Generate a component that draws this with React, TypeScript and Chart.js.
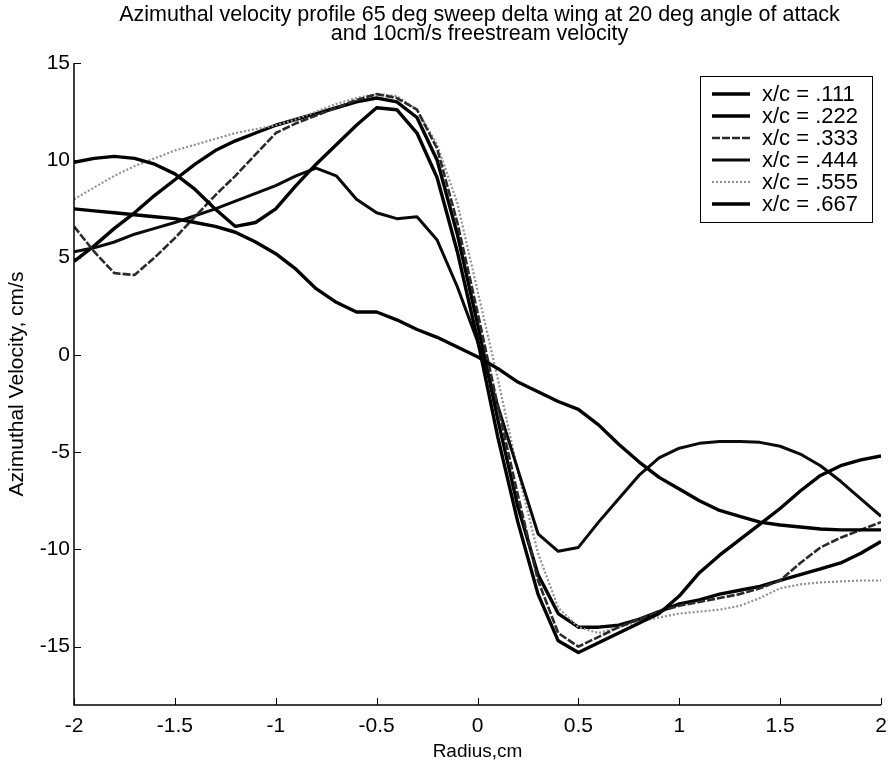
import React, { useEffect, useRef } from "react";
import { Chart, registerables } from "chart.js";

Chart.register(...registerables);

const titleLines = [
  "Azimuthal velocity profile 65 deg sweep delta wing at 20 deg angle of attack",
  "and 10cm/s freestream velocity",
];
const xAxisLabel = "Radius,cm";
const yAxisLabel = "Azimuthal Velocity, cm/s";

const xTicks = [-2, -1.5, -1, -0.5, 0, 0.5, 1, 1.5, 2];
const yTicks = [-15, -10, -5, 0, 5, 10, 15];

const radius = [
  -2.0, -1.9, -1.8, -1.7, -1.6, -1.5, -1.4, -1.3, -1.2, -1.1, -1.0,
  -0.9, -0.8, -0.7, -0.6, -0.5, -0.4, -0.3, -0.2, -0.1, 0.0,
  0.1, 0.2, 0.3, 0.4, 0.5, 0.6, 0.7, 0.8, 0.9, 1.0,
  1.1, 1.2, 1.3, 1.4, 1.5, 1.6, 1.7, 1.8, 1.9, 2.0,
];

const seriesLabels = ["x/c = .111", "x/c = .222", "x/c = .333", "x/c = .444", "x/c = .555", "x/c = .667"];

const vel111 = [
  7.5, 7.4, 7.3, 7.2, 7.1, 7.0, 6.8, 6.6, 6.3, 5.8, 5.2,
  4.4, 3.4, 2.7, 2.2, 2.2, 1.8, 1.3, 0.9, 0.4, -0.1,
  -0.7, -1.4, -1.9, -2.4, -2.8, -3.6, -4.6, -5.5, -6.3, -6.9,
  -7.5, -8.0, -8.3, -8.6, -8.75, -8.85, -8.95, -9.0, -9.0, -9.0,
];
const vel222 = [
  9.9, 10.1, 10.2, 10.1, 9.8, 9.3, 8.5, 7.5, 6.6, 6.8, 7.5,
  8.7, 9.8, 10.8, 11.8, 12.7, 12.6, 11.4, 9.1, 5.3, 0.8,
  -4.2, -8.6, -12.3, -14.7, -15.3, -14.8, -14.3, -13.8, -13.3, -12.4,
  -11.2, -10.3, -9.5, -8.7, -7.9, -7.0, -6.2, -5.7, -5.4, -5.2,
];
const vel333 = [
  6.6, 5.3, 4.2, 4.1, 5.0, 6.0, 7.1, 8.2, 9.2, 10.3, 11.4,
  11.9, 12.3, 12.7, 13.1, 13.4, 13.2, 12.6, 10.6, 6.8, 2.2,
  -2.6, -7.2, -11.6, -14.3, -15.0, -14.5, -14.0, -13.6, -13.2, -12.9,
  -12.7, -12.5, -12.3, -12.0, -11.6, -10.7, -9.9, -9.4, -9.0, -8.6,
];
const vel444 = [
  5.3, 5.5, 5.8, 6.2, 6.5, 6.8, 7.15, 7.5, 7.9, 8.3, 8.7,
  9.2, 9.6, 9.2, 8.0, 7.3, 7.0, 7.1, 5.9, 3.5, 0.7,
  -2.6, -5.9, -9.2, -10.1, -9.9, -8.6, -7.4, -6.2, -5.3, -4.8,
  -4.55, -4.45, -4.45, -4.5, -4.7, -5.1, -5.7, -6.5, -7.4, -8.3,
];
const vel555 = [
  8.0, 8.6, 9.2, 9.7, 10.1, 10.5, 10.8, 11.1, 11.4, 11.6, 11.8,
  12.1, 12.5, 12.9, 13.2, 13.4, 13.3, 12.6, 10.8, 7.8, 3.3,
  -1.2, -6.0, -10.2, -13.0, -14.0, -14.3, -14.0, -13.7, -13.5, -13.3,
  -13.2, -13.1, -12.9, -12.5, -12.0, -11.8, -11.7, -11.65, -11.6, -11.6,
];
const vel667 = [
  4.8, 5.6, 6.5, 7.3, 8.2, 9.0, 9.8, 10.5, 11.0, 11.4, 11.8,
  12.1, 12.4, 12.7, 13.0, 13.2, 13.0, 12.2, 10.0, 6.2, 1.6,
  -3.3, -7.8, -11.3, -13.3, -14.0, -14.0, -13.9, -13.6, -13.2, -12.8,
  -12.6, -12.3, -12.1, -11.9, -11.6, -11.3, -11.0, -10.7, -10.2, -9.6,
];

const seriesValues = [vel111, vel222, vel333, vel444, vel555, vel667];
const seriesColors = ["#000000", "#000000", "#2a2a2a", "#0a0a0a", "#8f8f8f", "#000000"];
const seriesWidths = [3.4, 3.4, 2.6, 3, 2.2, 3.4];
const seriesDashes: number[][] = [[], [], [8, 2], [], [2, 2], []];

const FONT = '"Liberation Sans", Arial, Helvetica, sans-serif';

const decorPlugin = {
  id: "decor",
  afterDraw(chart: any) {
    const { ctx, chartArea } = chart;
    const xs = chart.scales.x;
    const ys = chart.scales.y;
    ctx.save();
    // axes lines
    ctx.strokeStyle = "#000";
    ctx.lineWidth = 1.5;
    ctx.setLineDash([]);
    ctx.beginPath();
    ctx.moveTo(chartArea.left, chartArea.top);
    ctx.lineTo(chartArea.left, chartArea.bottom);
    ctx.lineTo(chartArea.right, chartArea.bottom);
    ctx.stroke();
    // inward ticks
    ctx.lineWidth = 1;
    ctx.beginPath();
    for (const v of yTicks) {
      const p = Math.round(ys.getPixelForValue(v)) + 0.5;
      ctx.moveTo(chartArea.left, p);
      ctx.lineTo(chartArea.left + 7, p);
    }
    for (const v of xTicks) {
      const p = Math.round(xs.getPixelForValue(v)) + 0.5;
      ctx.moveTo(p, chartArea.bottom);
      ctx.lineTo(p, chartArea.bottom - 7);
    }
    ctx.stroke();
    // title
    ctx.fillStyle = "#000";
    ctx.font = `21.5px ${FONT}`;
    ctx.textAlign = "center";
    ctx.textBaseline = "middle";
    const cx = (chartArea.left + chartArea.right) / 2 + 2;
    titleLines.forEach((t, i) => ctx.fillText(t, cx, 15 + i * 19));
    // legend
    const boxW = 172;
    const rowH = 22;
    const boxX = chartArea.right - 9 - boxW;
    const boxY = chartArea.top + 13;
    const boxH = rowH * seriesLabels.length + 14;
    ctx.fillStyle = "#fff";
    ctx.fillRect(boxX, boxY, boxW, boxH);
    ctx.strokeStyle = "#000";
    ctx.lineWidth = 1;
    ctx.strokeRect(boxX + 0.5, boxY + 0.5, boxW, boxH);
    ctx.font = `22px ${FONT}`;
    ctx.textAlign = "left";
    ctx.textBaseline = "middle";
    seriesLabels.forEach((lab, i) => {
      const y = boxY + 18 + i * rowH;
      ctx.strokeStyle = seriesColors[i];
      ctx.lineWidth = seriesWidths[i];
      ctx.setLineDash(seriesDashes[i]);
      ctx.beginPath();
      ctx.moveTo(boxX + 12, y);
      ctx.lineTo(boxX + 50, y);
      ctx.stroke();
      ctx.setLineDash([]);
      ctx.fillStyle = "#000";
      ctx.fillText(lab, boxX + 62, y + 1);
    });
    ctx.restore();
  },
};

export default function App() {
  const canvasRef = useRef<HTMLCanvasElement | null>(null);

  useEffect(() => {
    const canvas = canvasRef.current;
    if (!canvas) return;
    const datasets = seriesValues.map((vals, i) => ({
      label: seriesLabels[i],
      data: vals.map((v, k) => ({ x: radius[k], y: v })),
      borderColor: seriesColors[i],
      backgroundColor: seriesColors[i],
      borderWidth: seriesWidths[i],
      borderDash: seriesDashes[i],
      borderJoinStyle: "round" as const,
      pointRadius: 0,
      tension: 0,
      fill: false,
    }));
    const chart = new Chart(canvas, {
      type: "line",
      data: { datasets },
      plugins: [decorPlugin],
      options: {
        animation: false,
        responsive: false,
        devicePixelRatio: 1,
        layout: { padding: { top: 63, right: 7, left: 0, bottom: 0 } },
        plugins: {
          legend: { display: false },
          title: { display: false },
          tooltip: { enabled: false },
        },
        scales: {
          x: {
            type: "linear",
            min: -2,
            max: 2,
            afterFit: (scale: any) => {
              scale.height = 58;
              scale.paddingRight = 0;
              scale.paddingLeft = 0;
            },
            afterBuildTicks: (scale: any) => {
              scale.ticks = xTicks.map((v) => ({ value: v }));
            },
            grid: { display: false, drawTicks: false },
            border: { display: false },
            ticks: {
              color: "#000",
              font: { family: FONT, size: 21 },
              padding: 9,
              maxRotation: 0,
              autoSkip: false,
              callback: (v: any) => String(v),
            },
            title: {
              display: true,
              text: xAxisLabel,
              color: "#000",
              font: { family: FONT, size: 19 },
              padding: { top: 12, bottom: 0 },
            },
          },
          y: {
            type: "linear",
            min: -18,
            max: 15,
            afterFit: (scale: any) => {
              scale.width = 74;
              scale.paddingTop = 0;
              scale.paddingBottom = 0;
            },
            afterBuildTicks: (scale: any) => {
              scale.ticks = yTicks.map((v) => ({ value: v }));
            },
            grid: { display: false, drawTicks: false },
            border: { display: false },
            ticks: {
              color: "#000",
              font: { family: FONT, size: 21 },
              padding: 4,
              autoSkip: false,
              callback: (v: any) => String(v),
            },
            title: {
              display: true,
              text: yAxisLabel,
              color: "#000",
              font: { family: FONT, size: 21 },
              padding: { top: 5, bottom: 0 },
            },
          },
        },
      },
    });
    return () => chart.destroy();
  }, []);

  return (
    <div style={{ position: "fixed", left: 0, top: 0, width: 888, height: 763, background: "#fff" }}>
      <canvas ref={canvasRef} width={888} height={763} style={{ width: 888, height: 763 }} />
    </div>
  );
}
